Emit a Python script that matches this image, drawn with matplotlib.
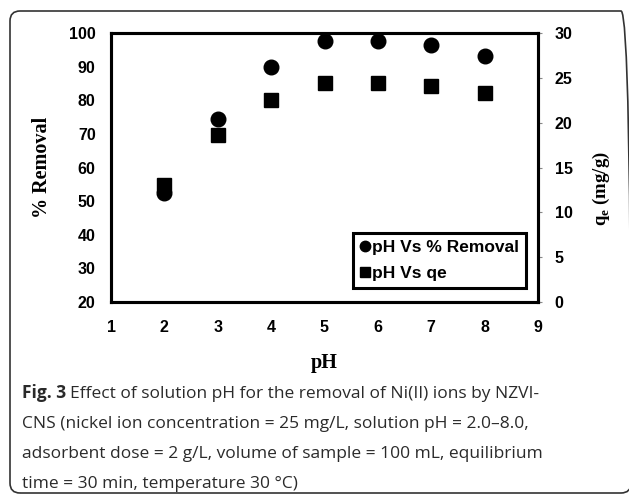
import numpy as np
import matplotlib
matplotlib.use("Agg")
import matplotlib.pyplot as plt
from matplotlib.patches import FancyBboxPatch
from matplotlib.lines import Line2D
from matplotlib.font_manager import FontProperties

# data
ph = [2, 3, 4, 5, 6, 7, 8]
removal = [52.4, 74.4, 90.0, 97.5, 97.7, 96.5, 93.2]
qe = [13.0, 18.6, 22.5, 24.4, 24.45, 24.1, 23.3]

caption_lines = [
    "Effect of solution pH for the removal of Ni(II) ions by NZVI-",
    "CNS (nickel ion concentration = 25 mg/L, solution pH = 2.0\u20138.0,",
    "adsorbent dose = 2 g/L, volume of sample = 100 mL, equilibrium",
    "time = 30 min, temperature 30 \u00b0C)",
]

W, H = 629, 495
fig = plt.figure(figsize=(W / 100, H / 100), dpi=100)
fig.patch.set_facecolor('white')

ax1 = fig.add_axes([111 / W, 1 - 302 / H, 427 / W, 269 / H])
ax2 = ax1.twinx()

ax1.plot(ph, removal, 'o', color='black', ms=10.5)
ax2.plot(ph, qe, 's', color='black', ms=10)

ax1.set_xlim(1, 9)
ax1.set_ylim(20, 100)
ax2.set_ylim(0, 30)
ax1.set_xticks(range(1, 10))
ax1.set_yticks(range(20, 101, 10))
ax2.set_yticks(range(0, 31, 5))

tick_fp = FontProperties(family='Liberation Sans', weight='bold', size=11.5)
for lab in ax1.get_xticklabels() + ax1.get_yticklabels() + ax2.get_yticklabels():
    lab.set_fontproperties(tick_fp)

ax1.tick_params(axis='x', length=0, pad=13)
ax1.tick_params(axis='y', length=0, pad=11)
ax2.tick_params(axis='y', length=3, width=0.8, color='#888888', direction='out', pad=9)

for ax in (ax1, ax2):
    for s in ax.spines.values():
        s.set_linewidth(2.2)
        s.set_color('black')

lab_font = dict(family='Liberation Serif', weight='bold', size=14.5)
ax1.set_xlabel('pH', **lab_font)
ax1.xaxis.set_label_coords(0.5, -0.19)
ax1.set_ylabel('% Removal', **lab_font)
ax1.yaxis.set_label_coords(-0.138, 0.50)
ax2.set_ylabel(r'q$_\mathregular{e}$ (mg/g)', family='Liberation Serif', weight='bold', size=13.5)
ax2.yaxis.set_label_coords(1.124, 0.42)

handles = [Line2D([], [], marker='o', ls='none', color='black', ms=7.5),
           Line2D([], [], marker='s', ls='none', color='black', ms=7.5)]
leg = ax1.legend(handles, ['pH Vs % Removal', 'pH Vs qe'],
                 loc='lower left', bbox_to_anchor=(0.567, 0.052, 0.405, 0.219),
                 mode='expand', frameon=True, fancybox=False, framealpha=1,
                 handlelength=0.6, handletextpad=0.1, borderpad=0.4,
                 labelspacing=0.65, borderaxespad=0,
                 prop=dict(family='Liberation Sans', weight='bold', size=12.5))
leg.get_frame().set_edgecolor('black')
leg.get_frame().set_linewidth(2.2)
leg.set_zorder(10)

# outer rounded frame (right edge sits just off the canvas)
box = FancyBboxPatch((10, 2), 621, 482, boxstyle='round,pad=0,rounding_size=10',
                     transform=None, fill=False, edgecolor='#333333', lw=1.2)
fig.patches.append(box)

# caption
cap_font = dict(family='Open Sans', size=12.5, color='#2a2a2a')
baselines = [398, 428, 458, 488]
fig.canvas.draw()
r = fig.canvas.get_renderer()
t = fig.text(22 / W, 1 - baselines[0] / H, 'Fig. 3', weight='bold', va='baseline', **cap_font)
bb = t.get_window_extent(renderer=r)
fig.text((bb.x1 + 4) / W, 1 - baselines[0] / H, caption_lines[0], va='baseline', **cap_font)
for line, y in zip(caption_lines[1:], baselines[1:]):
    fig.text(22 / W, 1 - y / H, line, va='baseline', **cap_font)

fig.savefig('out.png', dpi=100)
